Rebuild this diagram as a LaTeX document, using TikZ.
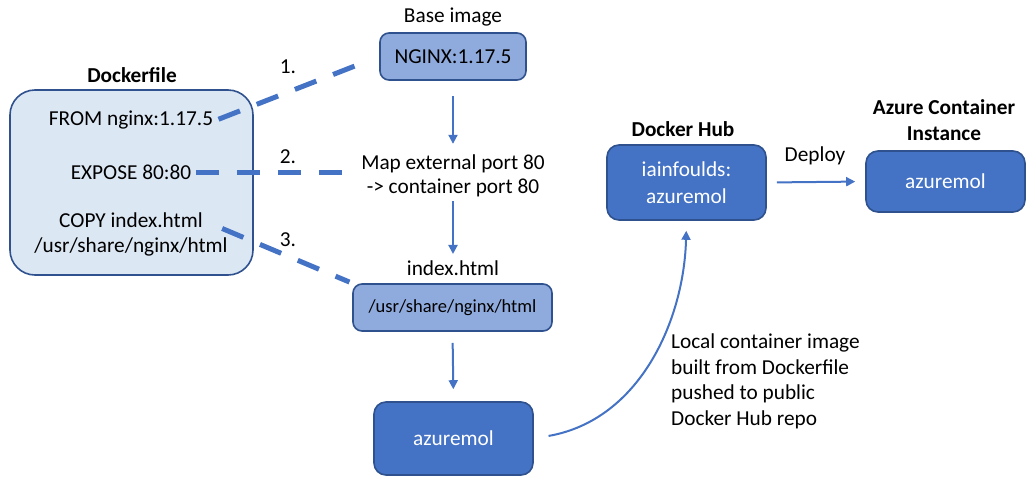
\documentclass[tikz,border=0pt]{standalone}
\usepackage{fontspec}
\setmainfont{Carlito}
\usepackage{xcolor}
\usepackage{tikz}
\usetikzlibrary{arrows.meta,positioning}
\definecolor{acc}{HTML}{4472C4}
\definecolor{accmid}{HTML}{8FAADC}
\definecolor{acclight}{HTML}{DCE7F4}
\definecolor{accdark}{HTML}{2F528F}

\begin{document}
\begin{tikzpicture}[x=1pt,y=-1pt,font=\fontsize{21.3}{25.5}\selectfont,
lightbox/.style={draw=accdark,line width=1.6pt,fill=acclight,rounded corners=25pt},
midbox/.style={draw=accdark,line width=1.6pt,fill=accmid,rounded corners=9pt,inner sep=0pt},
darkbox/.style={draw=accdark,line width=1.6pt,fill=acc,text=white,rounded corners=12pt,inner sep=0pt,align=center},
title/.style={font=\fontsize{21.3}{25.5}\selectfont\bfseries,align=center},
link/.style={acc,line width=5pt,dash pattern=on 23pt off 18pt},
flow/.style={acc,line width=2pt,-{Triangle[width=9pt,length=9pt]}}]
\useasboundingbox(0,0)rectangle(1026,477);
%dockerfile
\node[lightbox,minimum width=243pt,minimum height=185pt](dockerfile)at(131.5,182.5){};
\node[title](dftitle)at(132,75){Dockerfile};
\node(from)at(131,120){FROM nginx:1.17.5};
\node(expose)at(131,172){EXPOSE 80:80};
\node[align=center](copy)at(131,234.5){COPY index.html\\/usr/share/nginx/html};
%middle column
\node(baselabel)at(453,17){Base image};
\node[midbox,minimum width=146pt,minimum height=47pt](nginx)at(453,56.5){NGINX:1.17.5};
\node[align=center,text depth=0pt](map)at(453,174){Map external port 80\\[-1pt] -> container port 80};
\node(htmllabel)at(453,268){index.html};
\node[midbox,minimum width=199pt,minimum height=47pt,font=\fontsize{18.5}{22}\selectfont](html)at(452.5,307.5){/usr/share/nginx/html};
\node[darkbox,minimum width=159pt,minimum height=73pt](local)at(453.5,438.5){azuremol};
%right side
\node[title](hublabel)at(683,129){Docker Hub};
\node[darkbox,minimum width=159pt,minimum height=75pt](hub)at(686.5,182.5){iainfoulds:\\[1pt]azuremol};
\node[title](acilabel)at(944,120){Azure Container\\[1pt]Instance};
\node[darkbox,minimum width=159pt,minimum height=61pt](aci)at(945.5,181.5){azuremol};
\node(deploy)at(815,156){Deploy};
\node[align=left,anchor=north west,inner sep=0pt](note)at(671,334){Local container image\\built from Dockerfile\\pushed to public\\Docker Hub repo};
%dockerfile links
\draw[link,shorten <=2pt,shorten >=12pt](from.east)--(nginx.west);
\draw[link,shorten <=1pt,shorten >=8pt](expose.east)--(expose.east-|map.west);
\draw[link,shorten >=3pt]([xshift=-9pt,yshift=6pt]copy.east)--(html.north west);
\draw(288,67)node(one){1.}
(288,157)node(two){2.}
(288,240)node(three){3.};
%build steps
\draw[flow,shorten <=15pt,shorten >=7pt](nginx.south)--(map.north);
\draw[flow,shorten <=4pt,shorten >=3pt](map.south)--(htmllabel.north);
\draw[flow,shorten <=11pt,shorten >=12pt](html.south)--(local.north);
\draw[flow,shorten <=15pt,shorten >=10pt](local.east)..controls(640,420)and(684,320)..(hub.south);
\draw[flow,shorten <=10pt,shorten >=10pt](hub.east)--(aci.west);
\end{tikzpicture}
\end{document}
